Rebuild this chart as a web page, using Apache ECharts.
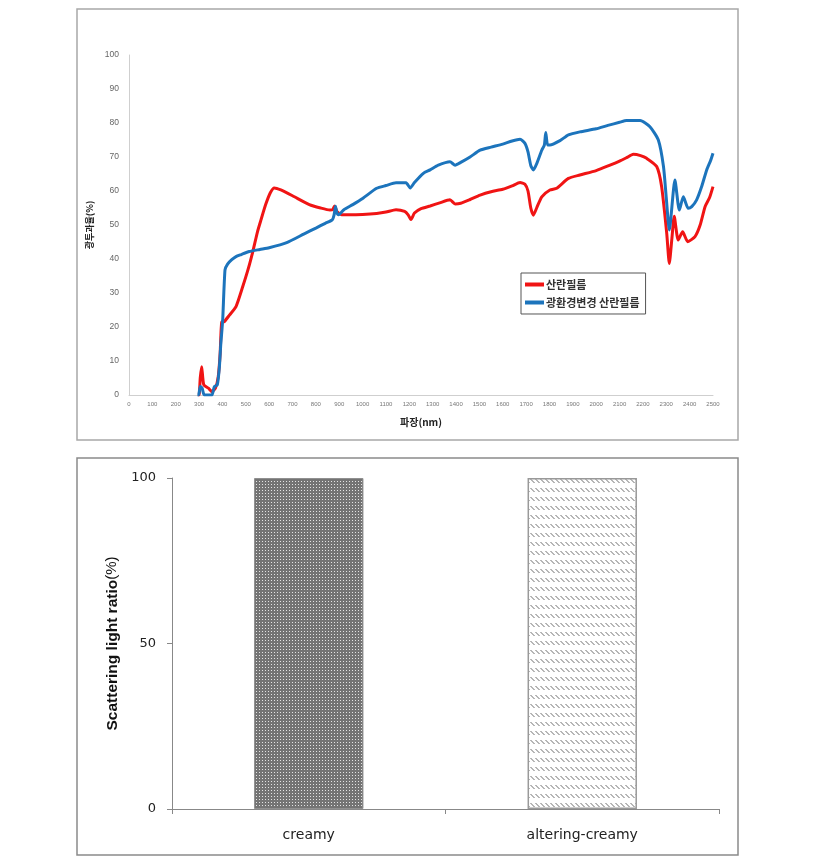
<!DOCTYPE html>
<html>
<head>
<meta charset="utf-8">
<script src="https://cdn.jsdelivr.net/npm/echarts@6/dist/echarts.min.js"></script>
<style>
html,body{margin:0;padding:0;background:#fff;}
#chart{width:818px;height:868px;}
</style>
</head>
<body>
<div id="chart"></div>
<script>
// ---- Top chart: transmittance spectra ----
const seriesNames = ['산란필름', '광환경변경 산란필름'];
const redWl = [295,300,305,311,320,340,355,370,382,390,397,408,430,458,487,510,530,550,565,585,605,622,650,700,772,820,860,872,880,890,910,943,1000,1060,1100,1143,1180,1195,1207,1222,1250,1289,1330,1374,1396,1420,1460,1503,1550,1600,1640,1674,1695,1708,1720,1731,1745,1767,1802,1831,1881,1930,2000,2059,2100,2130,2159,2190,2216,2259,2280,2302,2313,2324,2334,2351,2370,2392,2423,2445,2466,2485,2500];
const redT  = [0,0,5,8.3,3,2,1,2,5.4,12,21.5,21.6,23.5,26,31.9,37,42.2,48,51.5,56,59.5,60.9,60.3,58.6,56,55,54.4,54.5,55.6,54,53,53,53.1,53.4,53.8,54.5,54,53,51.6,53.5,54.8,55.6,56.5,57.4,56.2,56.4,57.5,58.8,59.8,60.5,61.5,62.5,62,60,55,52.9,55,58.3,60.3,60.8,63.7,64.7,66,67.6,68.8,69.8,70.8,70.4,69.6,67.2,61.3,47.5,38.7,46,52.6,45.6,48,45.1,46.6,50,55.4,58,61.3];
const blueWl = [293,298,305,313,322,340,355,365,378,387,393,401,411,422,440,458,480,515,560,600,675,750,800,840,870,878,884,890,897,920,958,1000,1060,1100,1143,1186,1204,1222,1260,1289,1324,1374,1396,1420,1460,1503,1550,1600,1640,1674,1695,1708,1720,1731,1745,1767,1778,1784,1792,1802,1845,1881,1930,2000,2050,2100,2130,2188,2230,2266,2288,2300,2313,2337,2356,2373,2394,2409,2430,2450,2473,2490,2500];
const blueT  = [0,0,2.5,2,0,0,0,2.4,3,8.3,15,22,36.8,38.5,39.8,40.7,41.3,42.2,42.8,43.3,44.8,47.4,49.1,50.5,51.5,53,55.5,53.5,53,54.5,56,57.8,60.8,61.6,62.4,62.4,60.9,62.5,65.2,66.2,67.6,68.6,67.6,68.4,70,72,72.9,73.8,74.7,75.2,74,71.5,67.5,66.2,68,72,73.5,77.2,73.5,73.5,74.8,76.5,77.4,78.3,79.3,80.2,80.7,80.7,78.9,75,67.2,58,48.5,63.2,54.4,58.3,54.9,55.4,57.4,61,66.2,69,71.1];
const xTicks = {min: 0, max: 2500, step: 100};
const yTicks = {min: 0, max: 100, step: 10};
const xTitle = '파장(nm)';
const yTitle = '광투과율(%)';

// ---- Bottom chart: scattering light ratio ----
const barCategories = ['creamy', 'altering-creamy'];
const barValues = [100, 100];
const barYTicks = {min: 0, max: 100, step: 50};
const barYTitleBold = 'Scattering light ratio';
const barYTitleRest = '(%)';

function zip(a, b) { return a.map((v, i) => [v, b[i]]); }

function dotPattern() {
  const c = document.createElement('canvas');
  c.width = 3; c.height = 3;
  const g = c.getContext('2d');
  g.fillStyle = '#747474';
  g.fillRect(0, 0, 3, 3);
  g.fillStyle = '#e4e4e4';
  g.fillRect(1, 1, 1, 1);
  return c;
}
function hatchPattern() {
  const c = document.createElement('canvas');
  c.width = 5; c.height = 9;
  const g = c.getContext('2d');
  g.fillStyle = '#ffffff';
  g.fillRect(0, 0, 5, 9);
  g.strokeStyle = '#6e6e6e';
  g.lineWidth = 1;
  g.beginPath();
  g.moveTo(0.5, 2); g.lineTo(4.5, 6);
  g.stroke();
  return c;
}

const chart = echarts.init(document.getElementById('chart'), null, {renderer: 'canvas'});
const cjk = '"Noto Sans CJK KR", "Liberation Sans", sans-serif';

const option = {
  backgroundColor: '#fff',
  animation: false,
  graphic: [
    {type: 'rect', shape: {x: 77, y: 9, width: 661, height: 431}, style: {fill: 'none', stroke: '#a8a8a8', lineWidth: 1.5}, z: -1},
    {type: 'rect', shape: {x: 77, y: 458, width: 661, height: 397}, style: {fill: 'none', stroke: '#8a8a8a', lineWidth: 1.5}, z: -1}
  ],
  legend: {
    data: seriesNames,
    orient: 'vertical',
    left: 521,
    top: 273,
    padding: [6, 6, 6, 4],
    itemGap: 7,
    itemWidth: 19,
    itemHeight: 4,
    icon: 'rect',
    borderColor: '#555',
    borderWidth: 1,
    textStyle: {fontFamily: cjk, fontSize: 11, fontWeight: 'bold', color: '#333', padding: [0, 0, 0, -3]}
  },
  grid: [
    {left: 129, top: 55, width: 584, height: 340, containLabel: false},
    {left: 172, top: 478, width: 547, height: 331, containLabel: false}
  ],
  xAxis: [
    {
      gridIndex: 0, type: 'value', min: xTicks.min, max: xTicks.max, interval: xTicks.step,
      name: xTitle, nameLocation: 'middle', nameGap: 22,
      nameTextStyle: {fontFamily: cjk, fontSize: 10, fontWeight: 'bold', color: '#222'},
      axisLine: {show: true, lineStyle: {color: '#cfcfcf', width: 1}},
      axisTick: {show: false},
      splitLine: {show: false},
      axisLabel: {fontSize: 6, color: '#777', margin: 6, fontFamily: '"Liberation Sans", sans-serif', showMinLabel: true, showMaxLabel: true, formatter: v => String(v)}
    },
    {
      gridIndex: 1, type: 'category', data: barCategories,
      axisLine: {show: true, lineStyle: {color: '#888', width: 1}},
      axisTick: {show: true, length: 5, lineStyle: {color: '#888'}},
      axisLabel: {fontSize: 14, color: '#222', margin: 19, fontFamily: '"DejaVu Sans", sans-serif'}
    }
  ],
  yAxis: [
    {
      gridIndex: 0, type: 'value', min: yTicks.min, max: yTicks.max, interval: yTicks.step,
      name: yTitle, nameLocation: 'middle', nameGap: 27, nameRotate: 90,
      nameTextStyle: {fontFamily: cjk, fontSize: 9, fontWeight: 'bold', color: '#222'},
      axisLine: {show: true, lineStyle: {color: '#cfcfcf', width: 1}},
      axisTick: {show: false},
      splitLine: {show: false},
      axisLabel: {fontSize: 8.5, color: '#666', margin: 10, fontFamily: '"Liberation Sans", sans-serif'}
    },
    {
      gridIndex: 1, type: 'value', min: barYTicks.min, max: barYTicks.max, interval: barYTicks.step,
      name: '{b|' + barYTitleBold + '}{n|' + barYTitleRest + '}', nameLocation: 'middle', nameGap: 50, nameRotate: 90,
      nameTextStyle: {
        rich: {
          b: {fontFamily: '"Liberation Sans", sans-serif', fontSize: 15.5, fontWeight: 'bold', color: '#111'},
          n: {fontFamily: '"Liberation Sans", sans-serif', fontSize: 15, color: '#111'}
        }
      },
      axisLine: {show: true, lineStyle: {color: '#888', width: 1}},
      axisTick: {show: true, length: 5, lineStyle: {color: '#888'}},
      splitLine: {show: false},
      axisLabel: {fontSize: 13, color: '#222', margin: 16, fontFamily: '"DejaVu Sans", sans-serif'}
    }
  ],
  series: [
    {
      name: seriesNames[0], type: 'line', xAxisIndex: 0, yAxisIndex: 0,
      data: zip(redWl, redT), showSymbol: false, smooth: 0.2,
      lineStyle: {color: '#f01414', width: 3}, itemStyle: {color: '#f01414'}, z: 3
    },
    {
      name: seriesNames[1], type: 'line', xAxisIndex: 0, yAxisIndex: 0,
      data: zip(blueWl, blueT), showSymbol: false, smooth: 0.2,
      lineStyle: {color: '#1c74bc', width: 3}, itemStyle: {color: '#1c74bc'}, z: 4
    },
    {
      name: 'bars', type: 'bar', xAxisIndex: 1, yAxisIndex: 1, barWidth: '40%',
      data: [
        {value: barValues[0], itemStyle: {color: {image: dotPattern(), repeat: 'repeat'}, borderColor: '#909090', borderWidth: 1}},
        {value: barValues[1], itemStyle: {color: {image: hatchPattern(), repeat: 'repeat'}, borderColor: '#999', borderWidth: 1.5}}
      ]
    }
  ]
};
chart.setOption(option);
</script>
</body>
</html>
